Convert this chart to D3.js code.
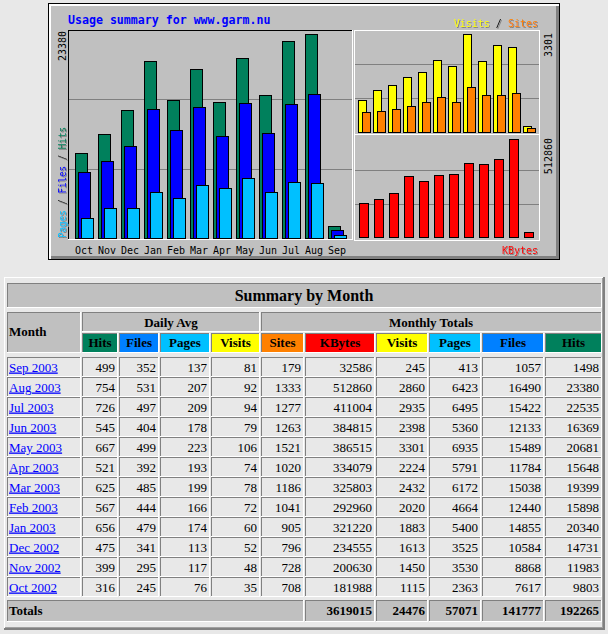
<!DOCTYPE html>
<html>
<head>
<meta charset="utf-8">
<script src="https://cdn.jsdelivr.net/npm/d3@7/dist/d3.min.js"></script>
<style>
  body { margin: 0; background: #e8e8e8; }
  svg { display: block; }
</style>
</head>
<body>
<script>
// data, oldest month first
const months = ["Oct", "Nov", "Dec", "Jan", "Feb", "Mar", "Apr", "May", "Jun", "Jul", "Aug", "Sep"];
const years = [2002, 2002, 2002, 2003, 2003, 2003, 2003, 2003, 2003, 2003, 2003, 2003];
const avgHits = [316, 399, 475, 656, 567, 625, 521, 667, 545, 726, 754, 499];
const avgFiles = [245, 295, 341, 479, 444, 485, 392, 499, 404, 497, 531, 352];
const avgPages = [76, 117, 113, 174, 166, 199, 193, 223, 178, 209, 207, 137];
const avgVisits = [35, 48, 52, 60, 72, 78, 74, 106, 79, 94, 92, 81];
const sites = [708, 728, 796, 905, 1041, 1186, 1020, 1521, 1263, 1277, 1333, 179];
const kbytes = [181988, 200630, 234555, 321220, 292960, 325803, 334079, 386515, 384815, 411004, 512860, 32586];
const visits = [1115, 1450, 1613, 1883, 2020, 2432, 2224, 3301, 2398, 2935, 2860, 245];
const pages = [2363, 3530, 3525, 5400, 4664, 6172, 5791, 6935, 5360, 6495, 6423, 413];
const files = [7617, 8868, 10584, 14855, 12440, 15038, 11784, 15489, 12133, 15422, 16490, 1057];
const hits = [9803, 11983, 14731, 20340, 15898, 19399, 15648, 20681, 16369, 22535, 23380, 1498];
const totals = [3619015, 24476, 57071, 141777, 192265]; // kbytes, visits, pages, files, hits

const MONO = "DejaVu Sans Mono";
const SERIF = "Liberation Serif";
const DARK = "#808080";

const svg = d3
  .select("body")
  .append("svg")
  .attr("width", 608)
  .attr("height", 634);

// drop shadow for the coloured legend texts
svg.append("defs")
  .append("filter")
  .attr("id", "shadow")
  .attr("x", "-10%").attr("y", "-10%").attr("width", "120%").attr("height", "120%")
  .append("feDropShadow")
  .attr("dx", 1).attr("dy", 1).attr("stdDeviation", 0)
  .attr("flood-color", DARK).attr("flood-opacity", 1);

svg.append("rect").attr("width", 608).attr("height", 634).attr("fill", "#e8e8e8");

function hline(g, x0, x1, y, color) {
  g.append("rect").attr("x", x0).attr("y", y).attr("width", x1 - x0).attr("height", 1).attr("fill", color);
}
function vline(g, x, y0, y1, color) {
  g.append("rect").attr("x", x).attr("y", y0).attr("width", 1).attr("height", y1 - y0).attr("fill", color);
}

// ---------- graph ----------
const graph = svg.append("g").attr("shape-rendering", "crispEdges");
graph.append("rect").attr("x", 48).attr("y", 3).attr("width", 512).attr("height", 257).attr("fill", "#000");
graph.append("rect").attr("x", 49).attr("y", 4).attr("width", 510).attr("height", 255).attr("fill", "#fff");
graph.append("rect").attr("x", 51).attr("y", 6).attr("width", 508).attr("height", 253).attr("fill", DARK);
graph.append("rect").attr("x", 51).attr("y", 6).attr("width", 505).attr("height", 250).attr("fill", "#c0c0c0");

// panels
hline(graph, 68, 353, 30, "#000");
vline(graph, 68, 30, 240, "#000");
vline(graph, 352, 30, 240, "#fff");
hline(graph, 68, 353, 239, "#fff");

[[354, 30, 539, 134], [354, 134, 539, 240]].forEach(([x0, y0, x1, y1]) => {
  hline(graph, x0, x1, y0, "#fff");
  hline(graph, x0, x1 + 1, y1, "#fff");
  vline(graph, x0, y0, y1, "#fff");
  vline(graph, x1, y0, y1, "#fff");
});

// grid lines
[99, 169].forEach((gy) => hline(graph, 69, 352, gy, DARK));
[64, 98].forEach((gy) => hline(graph, 355, 539, gy, DARK));
[170, 204].forEach((gy) => hline(graph, 355, 539, gy, DARK));

function drawBars(g, xs, ys, list, width) {
  g.selectAll(null)
    .data(list)
    .join("g")
    .each(function (s) {
      d3.select(this)
        .selectAll("rect")
        .data(s.values)
        .join("rect")
        .attr("x", (d, i) => Math.round(xs(months[i]) + s.dx) + 0.5)
        .attr("y", (d) => Math.round(ys(d)) + 0.5)
        .attr("width", width - 1)
        .attr("height", (d) => Math.max(0, Math.round(ys(0)) - Math.round(ys(d)) - 1))
        .attr("fill", s.color)
        .attr("stroke", "#000");
    });
}

// main: hits / files / pages
const xMain = d3.scaleBand().domain(months).range([74.6, 74.6 + 23 * 12]);
const yMain = d3.scaleLinear().domain([0, d3.max(hits)]).range([239, 34]);
drawBars(graph, xMain, yMain, [
  { values: hits, color: "#00805c", dx: 0 },
  { values: files, color: "#0000ff", dx: 3 },
  { values: pages, color: "#00c0ff", dx: 6 },
], 13);

// visits / sites
const xVis = d3.scaleBand().domain(months).range([358.3, 358.3 + 15 * 12]);
const yVis = d3.scaleLinear().domain([0, d3.max(visits)]).range([133, 34]);
drawBars(graph, xVis, yVis, [
  { values: visits, color: "#ffff00", dx: 0 },
  { values: sites, color: "#ff8000", dx: 4 },
], 9);

// kbytes
const xKb = d3.scaleBand().domain(months).range([359.3, 359.3 + 15 * 12]);
const yKb = d3.scaleLinear().domain([0, d3.max(kbytes)]).range([238, 139]);
drawBars(graph, xKb, yKb, [{ values: kbytes, color: "#ff0000", dx: 0 }], 10);

// texts
const gt = svg.append("g").attr("font-family", MONO);
gt.append("text")
  .attr("x", 68).attr("y", 24)
  .attr("font-size", 11.6).attr("font-weight", "bold").attr("fill", "#0000ff")
  .text("Usage summary for www.garm.nu");

gt.selectAll(null)
  .data(months)
  .join("text")
  .attr("x", (d) => xMain(d) + 9.5)
  .attr("y", 254)
  .attr("font-size", 10)
  .attr("text-anchor", "middle")
  .text((d) => d);

function upLabel(x, y, anchor, txt) {
  gt.append("text")
    .attr("transform", `translate(${x},${y}) rotate(-90)`)
    .attr("font-size", 10)
    .attr("text-anchor", anchor)
    .text(txt);
}
upLabel(66, 31, "end", d3.max(hits));
upLabel(552, 33, "end", d3.max(visits));
upLabel(552, 138, "end", d3.max(kbytes));

function colored(sel, parts) {
  parts.forEach(([t, c]) => sel.append("tspan").attr("fill", c).text(t));
}
const legend = gt.append("g").attr("filter", "url(#shadow)");
colored(
  legend.append("text")
    .attr("transform", "translate(66,238) rotate(-90)")
    .attr("font-size", 10)
    .attr("textLength", 111).attr("lengthAdjust", "spacingAndGlyphs"),
  [["Pages", "#00c0ff"], [" / ", "#000"], ["Files", "#0000ff"], [" / ", "#000"], ["Hits", "#00805c"]]
);
colored(
  legend.append("text")
    .attr("x", 538).attr("y", 27)
    .attr("font-size", 10).attr("text-anchor", "end"),
  [["Visits", "#ffff00"], [" / ", "#000"], ["Sites", "#ff8000"]]
);
legend.append("text")
  .attr("x", 538).attr("y", 254)
  .attr("font-size", 10).attr("text-anchor", "end")
  .attr("fill", "#ff0000")
  .text("KBytes");

// ---------- table ----------
const tbl = svg.append("g").attr("shape-rendering", "crispEdges");
// outer outset border
tbl.append("rect").attr("x", 4).attr("y", 277).attr("width", 601).attr("height", 353).attr("fill", DARK);
tbl.append("rect").attr("x", 4).attr("y", 277).attr("width", 599).attr("height", 351).attr("fill", "#fff");
tbl.append("rect").attr("x", 5).attr("y", 278).attr("width", 598).attr("height", 350).attr("fill", "#a0a0a0");
tbl.append("rect").attr("x", 5).attr("y", 278).attr("width", 597).attr("height", 349).attr("fill", "#e8e8e8");

function cell(x0, y0, x1, y1, fill) {
  tbl.append("rect").attr("x", x0).attr("y", y0).attr("width", x1 - x0).attr("height", y1 - y0).attr("fill", fill);
  hline(tbl, x0, x1, y0, DARK);
  vline(tbl, x0, y0, y1, DARK);
  hline(tbl, x0, x1, y1 - 1, "#fff");
  vline(tbl, x1 - 1, y0, y1, "#fff");
}

const tt = svg.append("g").attr("font-family", SERIF).attr("font-size", 13);

// column edges: month, 4 daily, 6 monthly
const colX = [
  [7, 81], [82, 118], [119, 159], [160, 210], [211, 260],
  [261, 304], [305, 375], [376, 428], [429, 481], [482, 544], [545, 602],
];

cell(7, 283, 602, 308, "#c0c0c0");
tt.append("text").attr("x", 304).attr("y", 301).attr("text-anchor", "middle")
  .attr("font-size", 16).attr("font-weight", "bold").text("Summary by Month");

cell(7, 312, 81, 353, "#c0c0c0");
tt.append("text").attr("x", 9).attr("y", 336).attr("font-weight", "bold").text("Month");
cell(82, 312, 260, 332, "#c0c0c0");
tt.append("text").attr("x", 171).attr("y", 327).attr("text-anchor", "middle").attr("font-weight", "bold").text("Daily Avg");
cell(261, 312, 602, 332, "#c0c0c0");
tt.append("text").attr("x", 431).attr("y", 327).attr("text-anchor", "middle").attr("font-weight", "bold").text("Monthly Totals");

const heads = [
  ["Hits", "#00805c"], ["Files", "#0080ff"], ["Pages", "#00c0ff"], ["Visits", "#ffff00"],
  ["Sites", "#ff8000"], ["KBytes", "#ff0000"], ["Visits", "#ffff00"], ["Pages", "#00c0ff"],
  ["Files", "#0080ff"], ["Hits", "#00805c"],
];
heads.forEach(([h, c], i) => {
  const [x0, x1] = colX[i + 1];
  cell(x0, 333, x1, 353, c);
  tt.append("text").attr("x", (x0 + x1) / 2).attr("y", 347).attr("text-anchor", "middle")
    .attr("font-weight", "bold").text(h);
});

// rows, newest first
const order = d3.range(months.length).reverse();
order.forEach((m, r) => {
  const y0 = 357 + r * 20;
  const row = [avgHits[m], avgFiles[m], avgPages[m], avgVisits[m], sites[m], kbytes[m], visits[m], pages[m], files[m], hits[m]];
  cell(7, y0, 81, y0 + 20, "#e8e8e8");
  tt.append("text").attr("x", 9).attr("y", y0 + 14.5).attr("fill", "#0000ff")
    .attr("text-decoration", "underline").text(`${months[m]} ${years[m]}`);
  row.forEach((v, i) => {
    const [x0, x1] = colX[i + 1];
    cell(x0, y0, x1, y0 + 20, "#e8e8e8");
    tt.append("text").attr("x", x1 - 3).attr("y", y0 + 14.5).attr("text-anchor", "end").text(v);
  });
});

// totals
cell(7, 600, 304, 622, "#c0c0c0");
tt.append("text").attr("x", 9).attr("y", 615).attr("font-weight", "bold").text("Totals");
totals.forEach((v, i) => {
  const [x0, x1] = colX[i + 6];
  cell(x0, 600, x1, 622, "#c0c0c0");
  tt.append("text").attr("x", x1 - 3).attr("y", 615).attr("text-anchor", "end").attr("font-weight", "bold").text(v);
});
</script>
</body>
</html>
